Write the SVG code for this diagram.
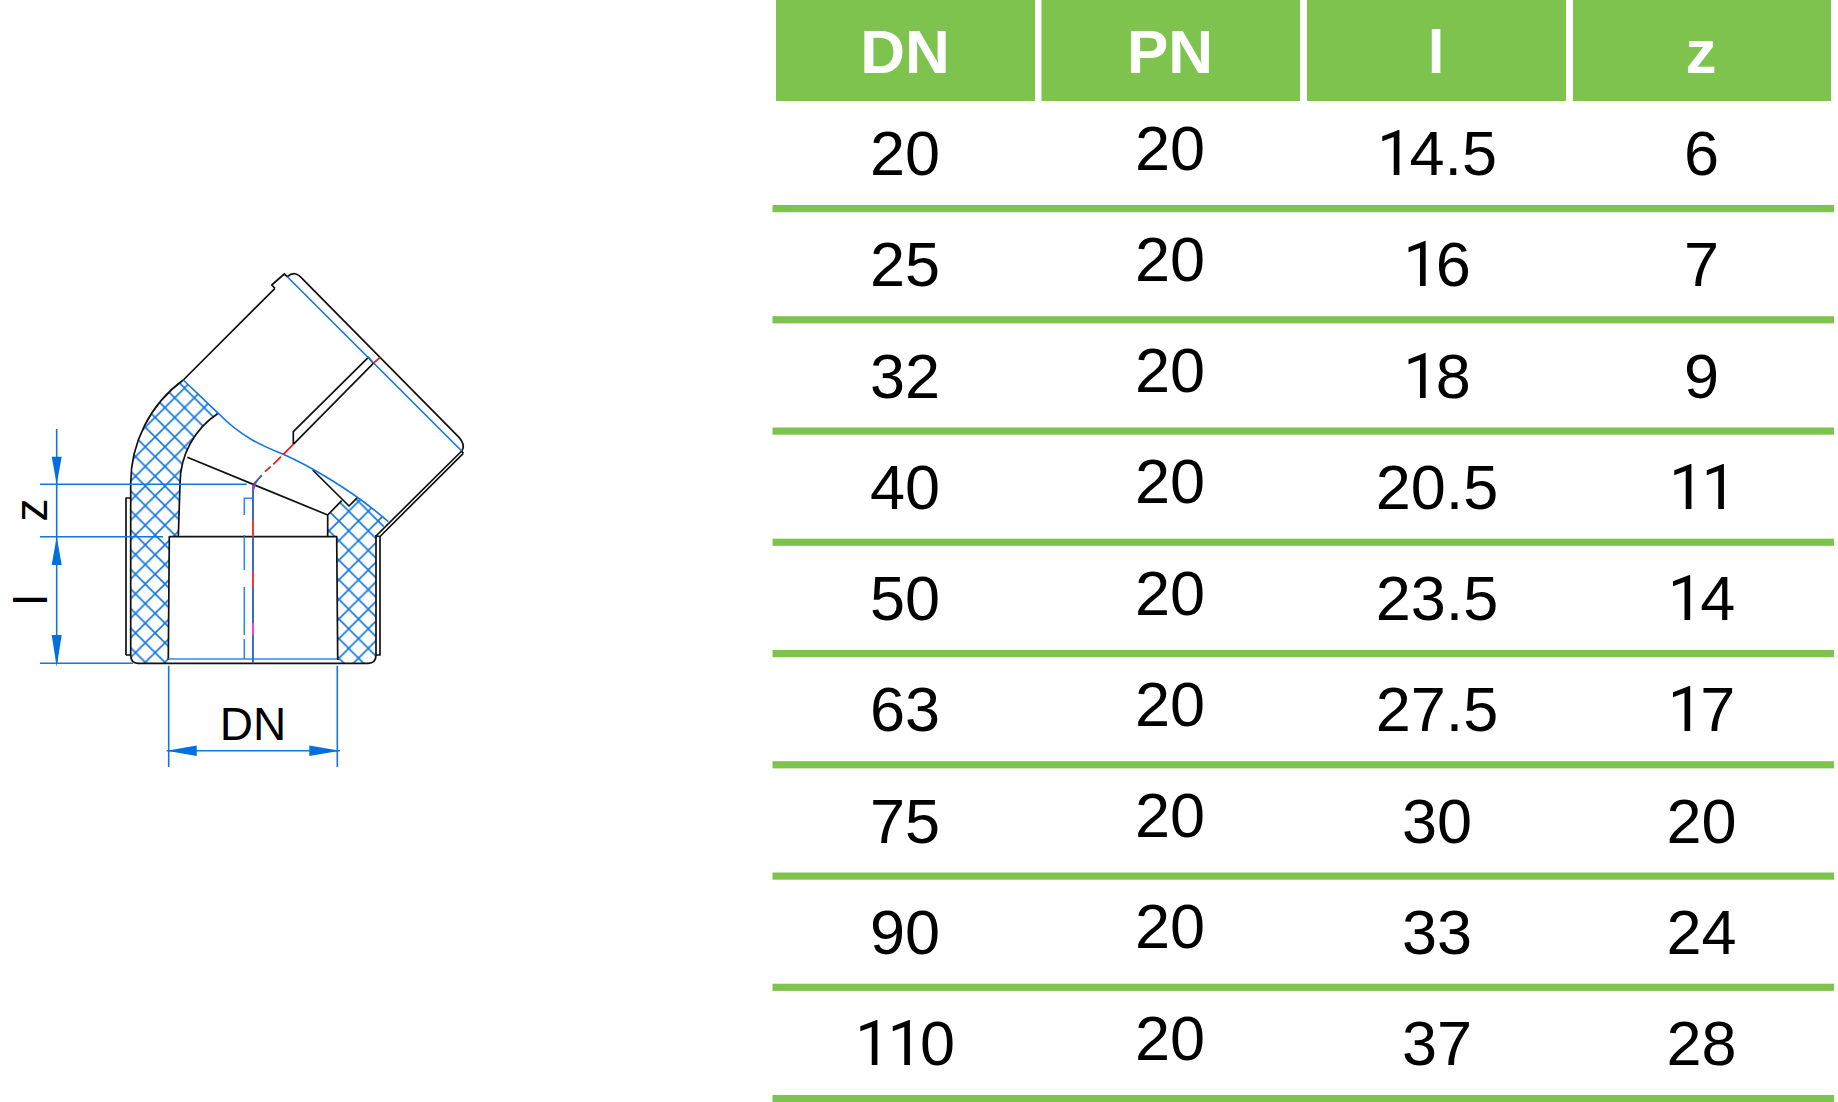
<svg xmlns="http://www.w3.org/2000/svg" width="1838" height="1102" viewBox="0 0 1838 1102">
<defs>
<style>
text{font-family:"Liberation Sans",Arial,sans-serif;text-anchor:middle}
.h{font-size:62px;font-weight:bold;fill:#fff}
.d{font-size:63px;fill:#000}
.o{font-family:Roboto,"Liberation Sans",sans-serif;letter-spacing:-3px}
.g{fill:#7fc34f}
.k{fill:none;stroke:#111;stroke-width:1.7;stroke-linejoin:round}
.b{fill:none;stroke:#1176e0;stroke-width:1.6}
.r{fill:none;stroke:#f5141e;stroke-width:1.7}
.a{fill:#0070e0}
.t{font-size:46px;fill:#000}
.hl{stroke:#1176e0;stroke-width:1.6;fill:none}
</style>
<pattern id="hatchL" patternUnits="userSpaceOnUse" width="19.6" height="19.6" patternTransform="translate(145.3 584)">
<path class="hl" d="M-1 -1L20.6 20.6M20.6 -1L-1 20.6"/>
</pattern>
<pattern id="hatchR" patternUnits="userSpaceOnUse" width="19.6" height="19.6" patternTransform="translate(348.7 570)">
<path class="hl" d="M-1 -1L20.6 20.6M20.6 -1L-1 20.6"/>
</pattern>
</defs>
<rect width="1838" height="1102" fill="#fff"/>
<g id="fitting">
<path id="hatch-left" fill="url(#hatchL)" d="M183.3 380A128 128 0 0 0 130.7 484.3V655Q130.7 663.3 138 663.3H168L169.3 537H178.3L180 484.3A84 84 0 0 1 218.3 413.3Z"/>
<path id="hatch-right" fill="url(#hatchR)" d="M388.3 521.7L376 535V655Q376 663.3 368 663.3H338L337 537H327.7V515L341.7 500.7L349 506L357.3 497.7L358.3 498.3Q374 509 388.3 521.7Z"/>
<path class="k" d="M275 288.3L183.3 380A128 128 0 0 0 130.7 484.3V655Q130.7 663.3 138 663.3H368Q376 663.3 376 655V535"/>
<path class="k" d="M275 288.3L271.7 285L284.3 274L287.3 276.7Q295 270 302 278.3L458.3 436.7Q466 445 461.7 451L376 536M463.3 453.3L380 536.5V655H376M461.7 451L463.3 453.3M376 536L380 536.5"/>
<path class="k" d="M126 655V498H130.7M126 655H130.7"/>
<path class="k" d="M218.3 413.3A84 84 0 0 0 180 484.3L178.3 536.7"/>
<path class="k" d="M168.3 660L169.3 536.7H336.7L337.7 660"/>
<path class="k" d="M327.7 536.7V515L187.3 457.3M327.7 515L341.7 500.7M312.7 470L349 506L357.3 497.7"/>
<path class="k" d="M293.3 444.3V431.7L368.3 357.3L373.3 363.3L293.3 444.3"/>
<path class="b" d="M287.3 276.7L461.7 451"/>
<path class="b" d="M183.3 380L218.3 413.3C240 436 262 446 283.3 454.3C305 464 350 488 388.3 521.7"/>
<path class="r" d="M373.3 363.3L380 357.3"/>
<path class="r" d="M293.3 444.3L283.3 454.3M281 456.7L273.3 464.3M270.7 466.7L265 471.7M261.7 475.7L253.3 484.3"/>
<path class="r" d="M253 484.3V623"/>
<path d="M253 623V663.3" fill="none" stroke="#ff1fc0" stroke-width="1.7"/>
<path class="b" d="M261.7 475Q253 484 252.8 495V520M252.8 537V572M252.8 587V623M252.8 635V663"/>
<path class="b" d="M253 498.3H244.3V515M244.3 535V570M244.3 587V635M244.3 639V659M168 659H337" stroke-opacity=".85"/>
</g>
<g id="dimensions">
<path class="b" d="M40 484.3H246.7M40 536.7H163M40 663.3H133M56.7 429V663M168.7 665.7V767M337.3 665.7V767M166.7 750.7H340"/>
<path class="a" d="M56.7 484.3L51.7 456.7H61.7ZM56.7 536.7L51.7 565H61.7ZM56.7 666.7L51.7 635H61.7ZM166.7 750.7L196.7 745.4V756ZM340 750.7L309.3 745.4V756Z"/>
<text class="t" x="253" y="740" font-size="47">DN</text>
<text class="t" transform="translate(46.7 510) rotate(-90)">z</text>
<text class="t" transform="translate(46.7 600) rotate(-90)">l</text>
</g>
<g id="table">
<g id="header">
<rect class="g" x="776" y="0" width="259" height="101"/>
<rect class="g" x="1041.5" y="0" width="258.5" height="101"/>
<rect class="g" x="1307" y="0" width="259" height="101"/>
<rect class="g" x="1573" y="0" width="258" height="101"/>
<text class="h" x="905" y="73">DN</text>
<text class="h" x="1170" y="73">PN</text>
<text class="h" x="1436" y="73">l</text>
<text class="h" x="1701" y="73">z</text>
</g>
<g id="rules">
<rect class="g" x="772.5" y="205" width="1061.5" height="7.2"/>
<rect class="g" x="772.5" y="316.2" width="1061.5" height="7.2"/>
<rect class="g" x="772.5" y="427.5" width="1061.5" height="7.2"/>
<rect class="g" x="772.5" y="538.7" width="1061.5" height="7.2"/>
<rect class="g" x="772.5" y="650" width="1061.5" height="7.2"/>
<rect class="g" x="772.5" y="761.2" width="1061.5" height="7.2"/>
<rect class="g" x="772.5" y="872.5" width="1061.5" height="7.2"/>
<rect class="g" x="772.5" y="983.7" width="1061.5" height="7.2"/>
<rect class="g" x="772.5" y="1095" width="1061.5" height="7"/>
</g>
<g id="col-dn">
<text class="d" x="905" y="175">20</text><text class="d" x="905" y="286.2">25</text><text class="d" x="905" y="397.5">32</text><text class="d" x="905" y="508.7">40</text><text class="d" x="905" y="620">50</text><text class="d" x="905" y="731.2">63</text><text class="d" x="905" y="842.5">75</text><text class="d" x="905" y="953.7">90</text><text class="d" x="905" y="1065"><tspan class="o">11</tspan>0</text>
</g>
<g id="col-pn">
<text class="d" x="1170" y="169.5">20</text><text class="d" x="1170" y="280.7">20</text><text class="d" x="1170" y="392">20</text><text class="d" x="1170" y="503.2">20</text><text class="d" x="1170" y="614.5">20</text><text class="d" x="1170" y="725.7">20</text><text class="d" x="1170" y="837">20</text><text class="d" x="1170" y="948.2">20</text><text class="d" x="1170" y="1059.5">20</text>
</g>
<g id="col-l">
<text class="d" x="1437" y="175"><tspan class="o">1</tspan>4.5</text><text class="d" x="1437" y="286.2"><tspan class="o">1</tspan>6</text><text class="d" x="1437" y="397.5"><tspan class="o">1</tspan>8</text><text class="d" x="1437" y="508.7">20.5</text><text class="d" x="1437" y="620">23.5</text><text class="d" x="1437" y="731.2">27.5</text><text class="d" x="1437" y="842.5">30</text><text class="d" x="1437" y="953.7">33</text><text class="d" x="1437" y="1065">37</text>
</g>
<g id="col-z">
<text class="d" x="1701.5" y="175">6</text><text class="d" x="1701.5" y="286.2">7</text><text class="d" x="1701.5" y="397.5">9</text><text class="d" x="1701.5" y="508.7"><tspan class="o">11</tspan></text><text class="d" x="1701.5" y="620"><tspan class="o">1</tspan>4</text><text class="d" x="1701.5" y="731.2"><tspan class="o">1</tspan>7</text><text class="d" x="1701.5" y="842.5">20</text><text class="d" x="1701.5" y="953.7">24</text><text class="d" x="1701.5" y="1065">28</text>
</g>
</g>
</svg>
